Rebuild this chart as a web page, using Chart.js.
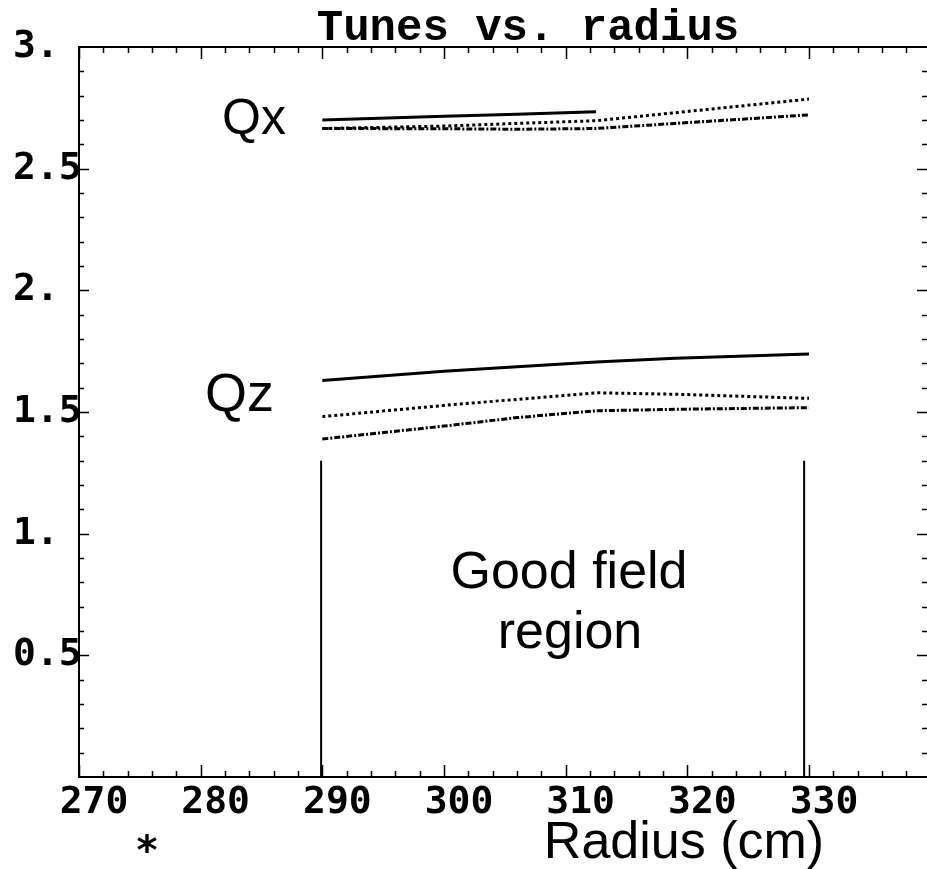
<!DOCTYPE html>
<html lang="en">
<head>
    <meta charset="UTF-8">
    <title>Tunes vs. radius</title>
    <script src="https://cdn.jsdelivr.net/npm/chart.js"></script>
    <style>
        body { margin: 0; background: #ffffff; }
        #wrap { width: 927px; height: 869px; }
    </style>
</head>
<body>
    <div id="wrap"><canvas id="tunesChart" width="927" height="869"></canvas></div>

    <script>
        // radius samples (cm)
        const radius = [290, 300, 306, 312.5, 319, 330];

        // Qx curves
        const qxSolid   = [2.700, 2.715, 2.724, 2.734, null, null];
        const qxDotted  = [2.665, 2.675, 2.686, 2.697, 2.730, 2.786];
        const qxDashDot = [2.665, 2.664, 2.662, 2.665, 2.686, 2.721];

        // Qz curves
        const qzSolid   = [1.629, 1.667, 1.686, 1.705, 1.721, 1.738];
        const qzDotted  = [1.481, 1.527, 1.552, 1.579, 1.573, 1.556];
        const qzDashDot = [1.389, 1.442, 1.477, 1.505, 1.511, 1.518];

        // good field region markers
        const fieldEdges = [289.9, 329.6];
        const fieldTop = 1.3;

        const xTickLabels = [270, 280, 290, 300, 310, 320, 330];
        const yTickLabels = { 3: '3.', 2.5: '2.5', 2: '2.', 1.5: '1.5', 1: '1.', 0.5: '0.5' };

        const pts = arr => radius.map((r, i) => ({ x: r, y: arr[i] }));

        function curve(arr, dash) {
            return {
                data: pts(arr),
                borderColor: '#000',
                borderWidth: 3,
                borderDash: dash,
                pointRadius: 0,
                fill: false,
                tension: 0,
                spanGaps: false
            };
        }

        function edge(x) {
            return {
                data: [{ x: x, y: 0 }, { x: x, y: fieldTop }],
                borderColor: '#000',
                borderWidth: 2,
                pointRadius: 0,
                fill: false
            };
        }

        const DOT = [3, 3];
        const DASHDOT = [6, 2, 2, 2];

        // frame, inward ticks and free text
        const framePlugin = {
            id: 'frame',
            afterDraw(chart) {
                const ctx = chart.ctx;
                const xs = chart.scales.x, ys = chart.scales.y;
                const a = chart.chartArea;
                const L = a.left, R = a.right, T = a.top, B = a.bottom;
                ctx.save();
                ctx.strokeStyle = '#000';
                ctx.lineWidth = 2;
                ctx.beginPath();
                ctx.moveTo(R, T); ctx.lineTo(L, T); ctx.lineTo(L, B); ctx.lineTo(R, B);
                ctx.stroke();

                ctx.lineWidth = 1.5;
                ctx.beginPath();
                for (let v = 270; v <= 340; v += 2) {
                    const px = Math.round(xs.getPixelForValue(v)) + 0.5;
                    if (px > R) break;
                    const len = (v % 10 === 0) ? 12 : 6;
                    ctx.moveTo(px, B); ctx.lineTo(px, B - len);
                    ctx.moveTo(px, T); ctx.lineTo(px, T + len);
                }
                for (let k = 1; k < 30; k++) {
                    const py = Math.round(ys.getPixelForValue(k / 10)) + 0.5;
                    const len = (k % 5 === 0) ? 10 : 5;
                    ctx.moveTo(L, py); ctx.lineTo(L + len, py);
                    ctx.moveTo(R, py); ctx.lineTo(R - len, py);
                }
                ctx.stroke();

                ctx.fillStyle = '#000';
                ctx.textBaseline = 'alphabetic';
                ctx.font = 'bold 44px "Liberation Mono", "DejaVu Sans Mono", monospace';
                ctx.textAlign = 'center';
                ctx.fillText('Tunes vs. radius', 528, 40);

                ctx.font = '50px "Liberation Sans", Arial, sans-serif';
                ctx.textAlign = 'left';
                ctx.fillText('Qx', 222, 134);
                ctx.font = '54px "Liberation Sans", Arial, sans-serif';
                ctx.fillText('Qz', 205, 411);

                ctx.font = '52px "Liberation Sans", Arial, sans-serif';
                ctx.textAlign = 'center';
                ctx.fillText('Good field', 569, 588);
                ctx.fillText('region', 570, 648);
                ctx.fillText('Radius (cm)', 684, 858);

                ctx.font = 'bold 40px "DejaVu Sans Mono", monospace';
                ctx.fillText('*', 147, 864);
                ctx.restore();
            }
        };

        const tickFont = { family: '"DejaVu Sans Mono", monospace', size: 38, weight: 'bold' };

        new Chart(document.getElementById('tunesChart'), {
            type: 'line',
            data: {
                datasets: [
                    curve(qxSolid, []),
                    curve(qxDotted, DOT),
                    curve(qxDashDot, DASHDOT),
                    curve(qzSolid, []),
                    curve(qzDotted, DOT),
                    curve(qzDashDot, DASHDOT),
                    edge(fieldEdges[0]),
                    edge(fieldEdges[1])
                ]
            },
            options: {
                responsive: false,
                animation: false,
                layout: { padding: { left: 13, top: 47, right: 0, bottom: 0 } },
                plugins: { legend: { display: false }, tooltip: { enabled: false }, title: { display: false } },
                scales: {
                    x: {
                        type: 'linear',
                        min: 270,
                        max: 339.7,
                        grid: { display: false },
                        border: { display: false },
                        ticks: {
                            stepSize: 10,
                            includeBounds: false,
                            maxRotation: 0,
                            autoSkip: false,
                            labelOffset: 15,
                            padding: -5,
                            color: '#000',
                            font: tickFont,
                            callback: v => xTickLabels.includes(v) ? String(v) : ''
                        },
                        afterFit: s => { s.height = 92; }
                    },
                    y: {
                        min: 0,
                        max: 3,
                        grid: { display: false },
                        border: { display: false },
                        ticks: {
                            stepSize: 0.5,
                            crossAlign: 'far',
                            padding: 0,
                            color: '#000',
                            font: tickFont,
                            callback: v => yTickLabels[v] || ''
                        },
                        afterFit: s => { s.width = 66; }
                    }
                }
            },
            plugins: [framePlugin]
        });
    </script>
</body>
</html>
